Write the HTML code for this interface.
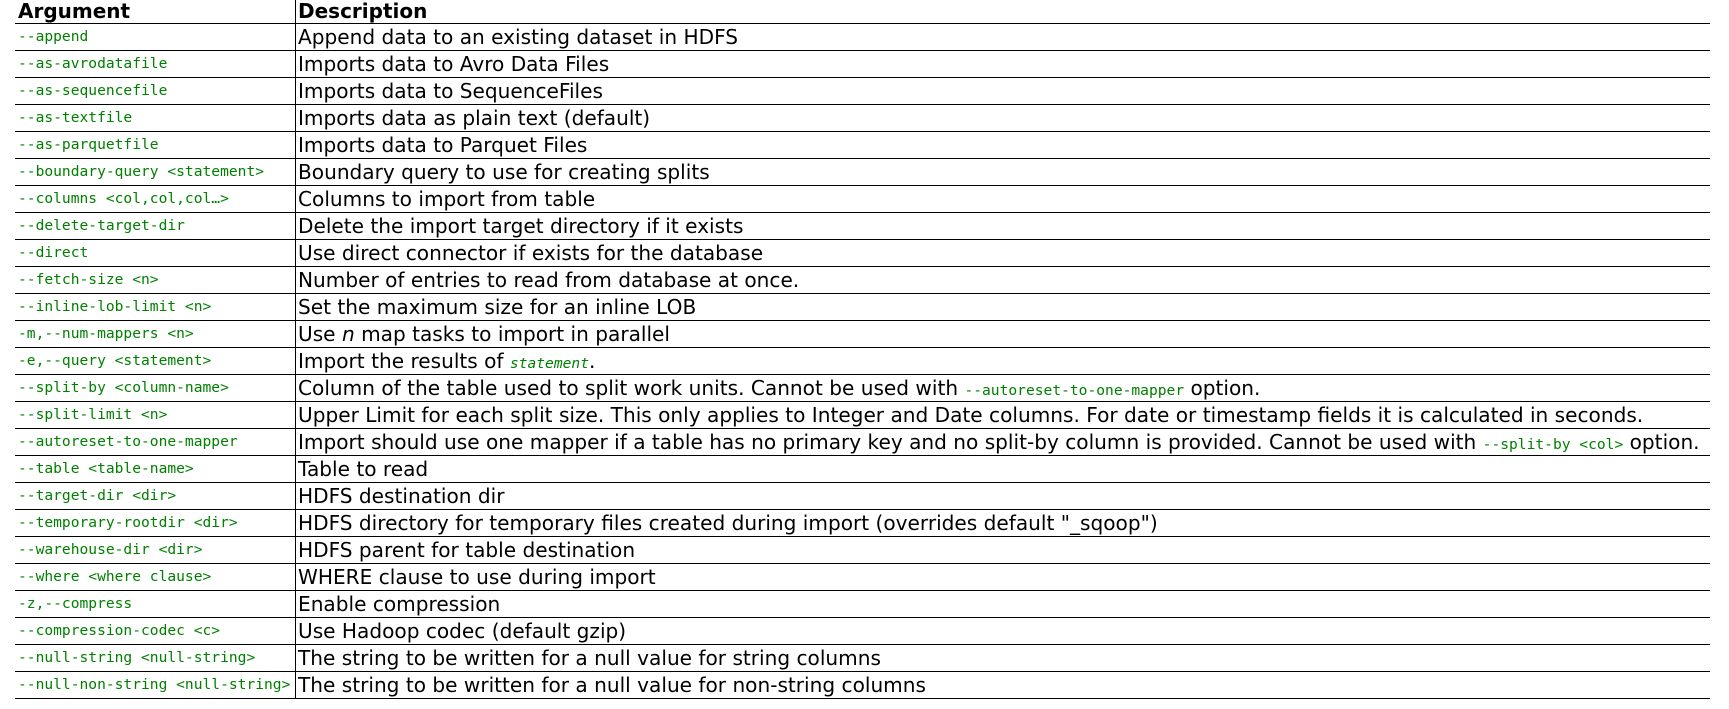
<!DOCTYPE html>
<html><head><meta charset="utf-8"><style>
html,body{margin:0;padding:0;background:#fff;width:1729px;height:709px;overflow:hidden}
.t{position:absolute;left:15px;top:0;width:1695px}
.h{position:absolute;left:0;top:0;height:23px;width:1695px;border-bottom:1px solid #000;font-family:"DejaVu Sans",Verdana,sans-serif;font-weight:bold;font-size:20px;line-height:22px;color:#000}
.r{position:absolute;left:0;width:1695px;height:26px;border-bottom:1px solid #000}
.a{position:absolute;left:3px;top:0;line-height:26px;font-family:"DejaVu Sans Mono","Liberation Mono",monospace;font-size:14.6px;color:#008000;white-space:nowrap}
.d{position:absolute;left:283px;top:0;line-height:27px;font-family:"DejaVu Sans",Verdana,sans-serif;font-size:20.1px;color:#000;white-space:nowrap}
.d code{font-family:"DejaVu Sans Mono","Liberation Mono",monospace;font-size:14.6px;color:#008000}
.v{position:absolute;left:295px;top:0;width:1px;height:698px;background:#000}
</style></head><body>
<div class="t">
<div class="h"><span style="position:absolute;left:3px">Argument</span><span style="position:absolute;left:283px">Description</span></div>
<div class="r" style="top:24px"><span class="a">--append</span><span class="d">Append data to an existing dataset in HDFS</span></div>
<div class="r" style="top:51px"><span class="a">--as-avrodatafile</span><span class="d">Imports data to Avro Data Files</span></div>
<div class="r" style="top:78px"><span class="a">--as-sequencefile</span><span class="d">Imports data to SequenceFiles</span></div>
<div class="r" style="top:105px"><span class="a">--as-textfile</span><span class="d">Imports data as plain text (default)</span></div>
<div class="r" style="top:132px"><span class="a">--as-parquetfile</span><span class="d">Imports data to Parquet Files</span></div>
<div class="r" style="top:159px"><span class="a">--boundary-query &lt;statement&gt;</span><span class="d">Boundary query to use for creating splits</span></div>
<div class="r" style="top:186px"><span class="a">--columns &lt;col,col,col…&gt;</span><span class="d">Columns to import from table</span></div>
<div class="r" style="top:213px"><span class="a">--delete-target-dir</span><span class="d">Delete the import target directory if it exists</span></div>
<div class="r" style="top:240px"><span class="a">--direct</span><span class="d">Use direct connector if exists for the database</span></div>
<div class="r" style="top:267px"><span class="a">--fetch-size &lt;n&gt;</span><span class="d">Number of entries to read from database at once.</span></div>
<div class="r" style="top:294px"><span class="a">--inline-lob-limit &lt;n&gt;</span><span class="d">Set the maximum size for an inline LOB</span></div>
<div class="r" style="top:321px"><span class="a">-m,--num-mappers &lt;n&gt;</span><span class="d">Use <i>n</i> map tasks to import in parallel</span></div>
<div class="r" style="top:348px"><span class="a">-e,--query &lt;statement&gt;</span><span class="d">Import the results of <code><i>statement</i></code>.</span></div>
<div class="r" style="top:375px"><span class="a">--split-by &lt;column-name&gt;</span><span class="d">Column of the table used to split work units. Cannot be used with <code>--autoreset-to-one-mapper</code> option.</span></div>
<div class="r" style="top:402px"><span class="a">--split-limit &lt;n&gt;</span><span class="d">Upper Limit for each split size. This only applies to Integer and Date columns. For date or timestamp fields it is calculated in seconds.</span></div>
<div class="r" style="top:429px"><span class="a">--autoreset-to-one-mapper</span><span class="d">Import should use one mapper if a table has no primary key and no split-by column is provided. Cannot be used with <code>--split-by &lt;col&gt;</code> option.</span></div>
<div class="r" style="top:456px"><span class="a">--table &lt;table-name&gt;</span><span class="d">Table to read</span></div>
<div class="r" style="top:483px"><span class="a">--target-dir &lt;dir&gt;</span><span class="d">HDFS destination dir</span></div>
<div class="r" style="top:510px"><span class="a">--temporary-rootdir &lt;dir&gt;</span><span class="d">HDFS directory for temporary files created during import (overrides default "_sqoop")</span></div>
<div class="r" style="top:537px"><span class="a">--warehouse-dir &lt;dir&gt;</span><span class="d">HDFS parent for table destination</span></div>
<div class="r" style="top:564px"><span class="a">--where &lt;where clause&gt;</span><span class="d">WHERE clause to use during import</span></div>
<div class="r" style="top:591px"><span class="a">-z,--compress</span><span class="d">Enable compression</span></div>
<div class="r" style="top:618px"><span class="a">--compression-codec &lt;c&gt;</span><span class="d">Use Hadoop codec (default gzip)</span></div>
<div class="r" style="top:645px"><span class="a">--null-string &lt;null-string&gt;</span><span class="d">The string to be written for a null value for string columns</span></div>
<div class="r" style="top:672px"><span class="a">--null-non-string &lt;null-string&gt;</span><span class="d">The string to be written for a null value for non-string columns</span></div>
</div>
<div class="v"></div>
</body></html>
